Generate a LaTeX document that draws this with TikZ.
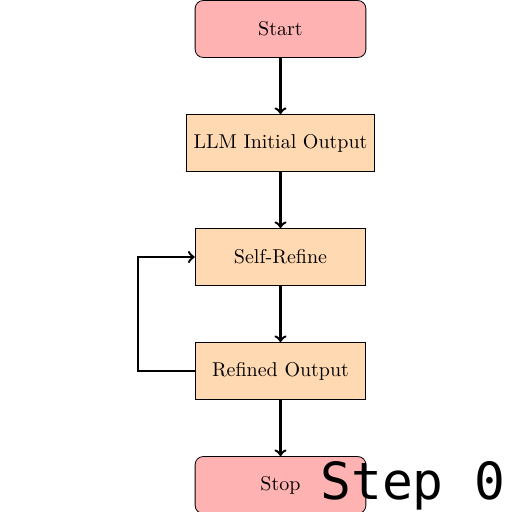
\documentclass[tikz,border=0pt]{standalone}
\usepackage{fontspec}
\newfontfamily\stepfont{DejaVu Sans Mono}
\usetikzlibrary{positioning}
\begin{document}
\begin{tikzpicture}[
  startstop/.style={rectangle, rounded corners, draw, fill=red!30, minimum width=3cm, minimum height=1cm, text centered},
  process/.style={rectangle, draw, fill=orange!30, minimum width=3cm, minimum height=1cm, text centered},
  arrowline/.style={very thick,->},
  node distance=28.15pt
]
\useasboundingbox (0,0) rectangle (256pt,-256pt);
\node[startstop] (start) at (140.25pt,-14.5pt) {Start};
\node[process, below=of start] (init) {LLM Initial Output};
\node[process, below=of init] (refine) {Self-Refine};
\node[process, below=of refine] (refined) {Refined Output};
\node[startstop, below=of refined] (stop) {Stop};
\draw[arrowline] (start) -- (init);
\draw[arrowline] (init) -- (refine);
\draw[arrowline] (refine) -- (refined);
\draw[arrowline] (refined) -- (stop);
\draw[arrowline] (refined.west) -- ++(-1cm,0) |- (refine.west);
\node[anchor=base west, inner sep=0pt, font=\stepfont\fontsize{25.6pt}{30pt}\selectfont] (steplabel) at (160pt,-249.5pt) {Step 0};
\end{tikzpicture}
\end{document}
